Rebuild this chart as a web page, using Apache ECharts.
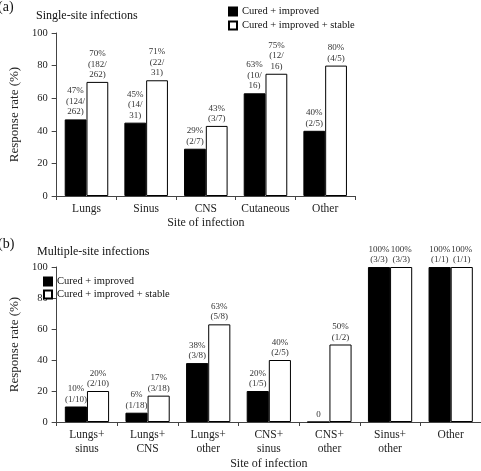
<!DOCTYPE html>
<html><head><meta charset="utf-8">
<script src="https://cdn.jsdelivr.net/npm/echarts@6/dist/echarts.min.js"></script>
<style>html,body{margin:0;padding:0;background:#fff}#c{width:481px;height:471px}</style>
</head><body><div id="c"></div>
<script>
var catsA = ['Lungs', 'Sinus', 'CNS', 'Cutaneous', 'Other'];
var curedA = [47, 45, 29, 63, 40];
var stableA = [70, 71, 43, 75, 80];
var curedLabelsA = ['47%\n(124/\n262)', '45%\n(14/\n31)', '29%\n(2/7)', '63%\n(10/\n16)', '40%\n(2/5)'];
var stableLabelsA = ['70%\n(182/\n262)', '71%\n(22/\n31)', '43%\n(3/7)', '75%\n(12/\n16)', '80%\n(4/5)'];

var catsB = ['Lungs+\nsinus', 'Lungs+\nCNS', 'Lungs+\nother', 'CNS+\nsinus', 'CNS+\nother', 'Sinus+\nother', 'Other'];
var curedB = [10, 6, 38, 20, 0, 100, 100];
var stableB = [20, 17, 63, 40, 50, 100, 100];
var curedLabelsB = ['10%\n(1/10)', '6%\n(1/18)', '38%\n(3/8)', '20%\n(1/5)', '0', '100%\n(3/3)', '100%\n(1/1)'];
var stableLabelsB = ['20%\n(2/10)', '17%\n(3/18)', '63%\n(5/8)', '40%\n(2/5)', '50%\n(1/2)', '100%\n(3/3)', '100%\n(1/1)'];

var FONT = '"Liberation Serif", "DejaVu Serif", serif';
var chart = echarts.init(document.getElementById('c'), null, {renderer: 'canvas'});

function xAxis(gi, cats) {
  return {
    type: 'category', gridIndex: gi, data: cats,
    name: 'Site of infection', nameLocation: 'middle', nameGap: gi === 0 ? 20 : 36,
    nameTextStyle: {fontFamily: FONT, fontSize: 12, color: '#222'},
    axisLine: {lineStyle: {color: '#444', width: 1}},
    axisTick: {show: true, length: 4, lineStyle: {color: '#444'}},
    axisLabel: {fontFamily: FONT, fontSize: 11.5, color: '#222', margin: 6, lineHeight: 14, interval: 0}
  };
}
function yAxis(gi) {
  return {
    type: 'value', gridIndex: gi, min: 0, max: 100, interval: 20,
    name: 'Response rate (%)', nameLocation: 'middle', nameGap: 28,
    nameTextStyle: {fontFamily: FONT, fontSize: 13, color: '#222'},
    axisLine: {show: true, lineStyle: {color: '#444', width: 1}},
    axisTick: {show: true, length: 5, lineStyle: {color: '#444'}},
    axisLabel: {fontFamily: FONT, fontSize: 10.5, color: '#222', margin: 9},
    splitLine: {show: false}
  };
}
function bar(name, gi, data, labels, fill) {
  return {
    type: 'bar', name: name, xAxisIndex: gi, yAxisIndex: gi, data: data,
    barGap: '0%', barCategoryGap: '27%',
    itemStyle: {color: fill, borderColor: '#000', borderWidth: 1},
    label: {show: true, position: 'top', distance: 2, fontFamily: FONT, fontSize: 9, lineHeight: 10.5, color: '#333',
      formatter: function (p) { return labels[p.dataIndex]; }},
    animation: false
  };
}
var legendText = {fontFamily: FONT, fontSize: 10.5, color: '#111'};
chart.setOption({
  animation: false,
  title: [
    {text: '(a)', left: -2, top: 0, padding: 0, textStyle: {fontFamily: FONT, fontSize: 14, fontWeight: 'normal', color: '#111'}},
    {text: 'Single-site infections', left: 36, top: 10, padding: 0, textStyle: {fontFamily: FONT, fontSize: 12, fontWeight: 'normal', color: '#111'}},
    {text: '(b)', left: -2, top: 237, padding: 0, textStyle: {fontFamily: FONT, fontSize: 14, fontWeight: 'normal', color: '#111'}},
    {text: 'Multiple-site infections', left: 37, top: 246, padding: 0, textStyle: {fontFamily: FONT, fontSize: 12, fontWeight: 'normal', color: '#111'}}
  ],
  legend: [
    {left: 228, top: 6, orient: 'vertical', itemWidth: 8, itemHeight: 8, itemGap: 3, padding: 0,
     icon: 'rect', textStyle: legendText, data: ['Cured + improved', 'Cured + improved + stable'], selectedMode: false},
    {left: 43, top: 276, orient: 'vertical', itemWidth: 8, itemHeight: 8, itemGap: 2, padding: 0,
     icon: 'rect', textStyle: legendText, data: ['Cured + improved', 'Cured + improved + stable'], selectedMode: false}
  ],
  grid: [
    {left: 35, top: 33, width: 320, height: 163},
    {left: 35, top: 267, width: 448, height: 164}
  ],
  xAxis: [xAxis(0, catsA), xAxis(1, catsB)],
  yAxis: [yAxis(0), yAxis(1)],
  series: [
    bar('Cured + improved', 0, curedA, curedLabelsA, '#000'),
    bar('Cured + improved + stable', 0, stableA, stableLabelsA, '#fff'),
    bar('Cured + improved', 1, curedB, curedLabelsB, '#000'),
    bar('Cured + improved + stable', 1, stableB, stableLabelsB, '#fff')
  ]
});
</script></body></html>
